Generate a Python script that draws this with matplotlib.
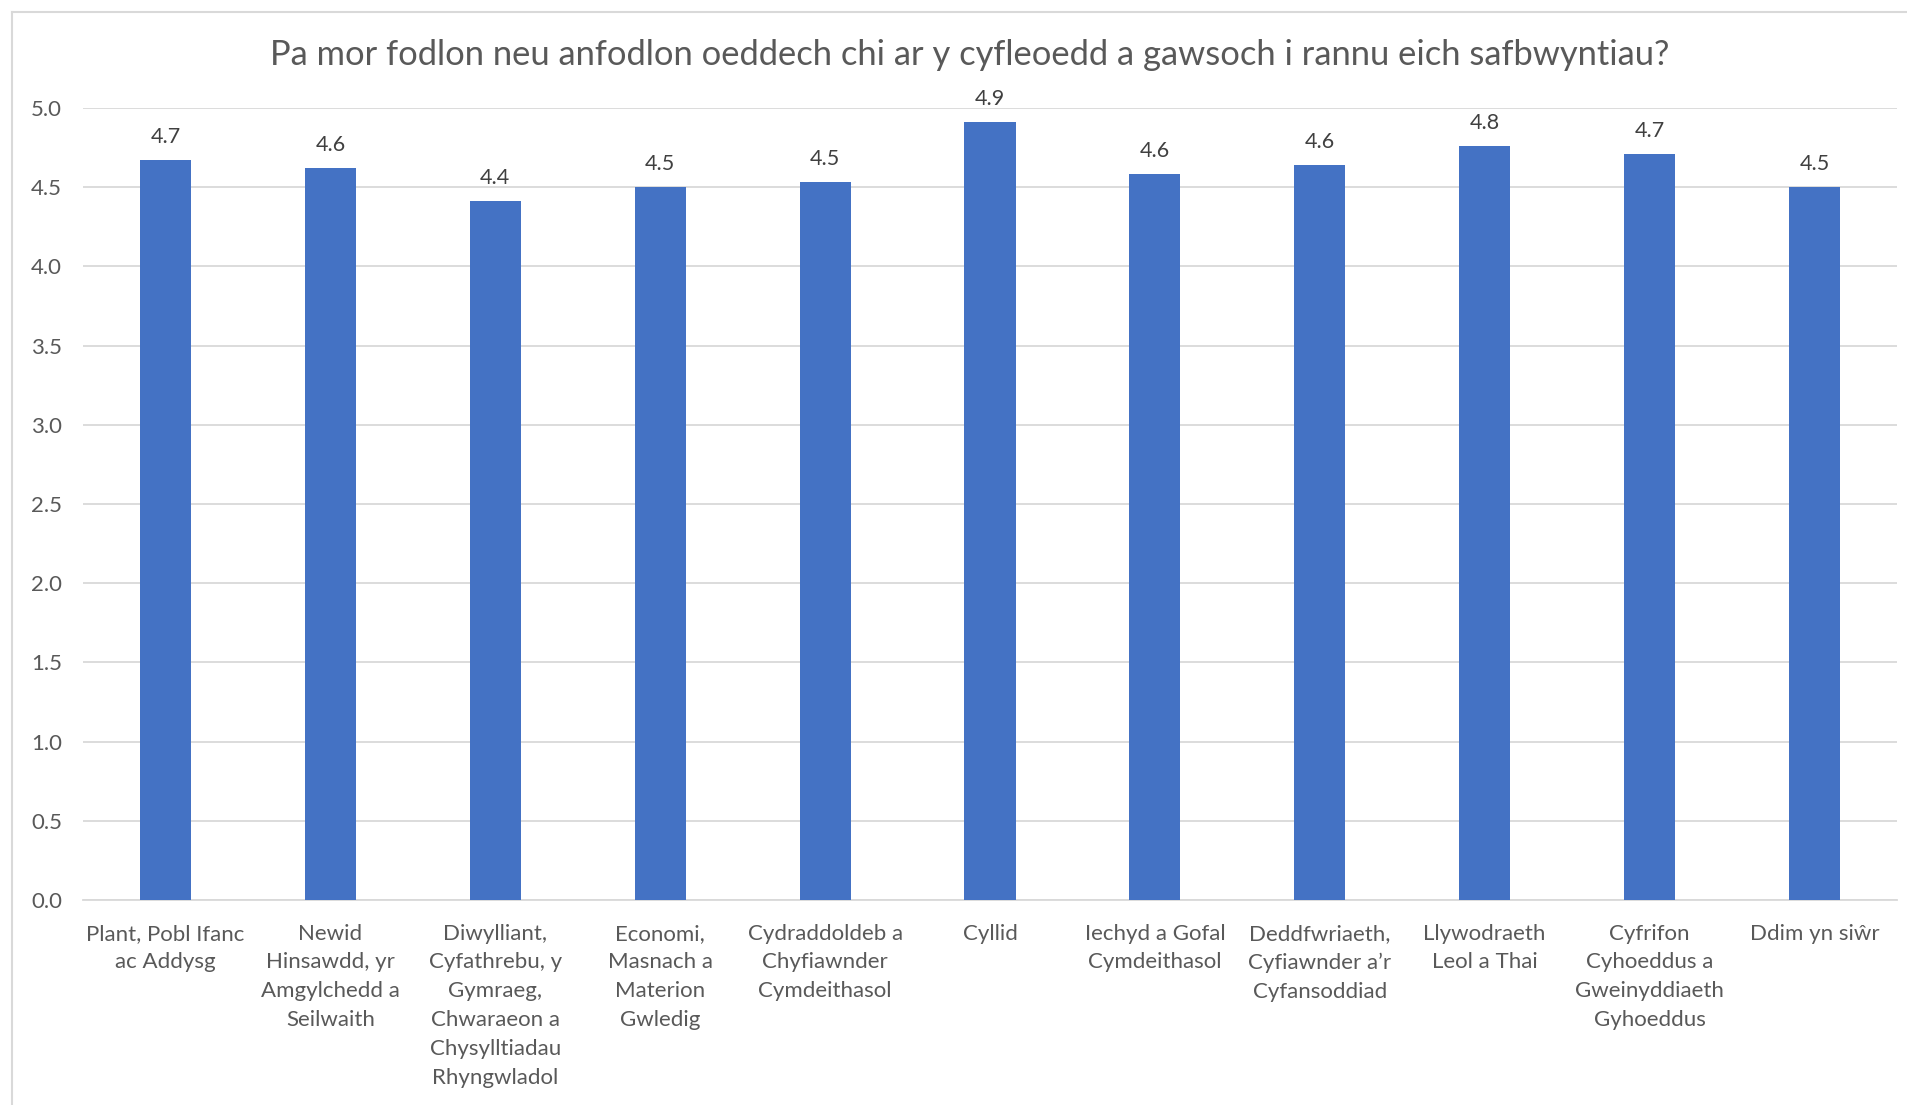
import numpy as np
import matplotlib
matplotlib.use("Agg")
import matplotlib.pyplot as plt
from matplotlib.lines import Line2D

#data
categories = ["Plant, Pobl Ifanc\nac Addysg",
              "Newid\nHinsawdd, yr\nAmgylchedd a\nSeilwaith",
              "Diwylliant,\nCyfathrebu, y\nGymraeg,\nChwaraeon a\nChysylltiadau\nRhyngwladol",
              "Economi,\nMasnach a\nMaterion\nGwledig",
              "Cydraddoldeb a\nChyfiawnder\nCymdeithasol",
              "Cyllid",
              "Iechyd a Gofal\nCymdeithasol",
              "Deddfwriaeth,\nCyfiawnder a\u2019r\nCyfansoddiad",
              "Llywodraeth\nLeol a Thai",
              "Cyfrifon\nCyhoeddus a\nGweinyddiaeth\nGyhoeddus",
              "Ddim yn si\u0175r"]
scores = [4.67, 4.62, 4.41, 4.50, 4.53, 4.91, 4.58, 4.64, 4.76, 4.71, 4.50]
yticks = [0.0, 0.5, 1.0, 1.5, 2.0, 2.5, 3.0, 3.5, 4.0, 4.5, 5.0]
title = "Pa mor fodlon neu anfodlon oeddech chi ar y cyfleoedd a gawsoch i rannu eich safbwyntiau?"

plt.rcParams['font.family'] = ['Lato', 'DejaVu Sans']

txt_col = "#595959"
grid_col = "#D9D9D9"
bar_col = "#4472C4"

fig = plt.figure(figsize=(19.08, 11.05), dpi=100)
ax = fig.add_axes([0.0435, 0.1855, 0.9507, 0.7168])

x = np.arange(len(categories))
bars = ax.bar(x, scores, width=0.31, color=bar_col, zorder=3)

#value labels
for b, v in zip(bars, scores):
    ax.annotate(f"{v:.1f}", (b.get_x() + b.get_width() / 2, v),
                xytext=(0, 9.5), textcoords="offset points",
                ha="center", va="bottom", fontsize=15.5, color="#404040")

ax.set_xlim(-0.5, len(categories) - 0.5)
ax.set_ylim(0, 5)
ax.set_yticks(yticks)
ax.set_yticklabels([f"{t:.1f}" for t in yticks])
ax.set_xticks(x)
ax.set_xticklabels(categories, linespacing=1.55)

ax.tick_params(axis="both", length=0, labelsize=16, labelcolor=txt_col)
ax.tick_params(axis="y", pad=15)
ax.tick_params(axis="x", pad=17)

ax.grid(axis="y", color=grid_col, linewidth=1.3, zorder=0)
for s in ["top", "right", "left"]:
    ax.spines[s].set_visible(False)
ax.spines["bottom"].set_color(grid_col)
ax.spines["bottom"].set_linewidth(1.3)

#title
fig.text(0.508, 1 - 55 / 1105, title, ha="center", va="center",
         fontsize=24.8, color=txt_col)

#chart border (cut off at right and bottom)
bx = 12 / 1908
by = 1 - 12 / 1105
fig.add_artist(Line2D([bx, bx], [-0.1, by], color=grid_col, linewidth=1.5))
fig.add_artist(Line2D([bx, 1.1], [by, by], color=grid_col, linewidth=1.5))

fig.savefig("out.png", dpi=100)
